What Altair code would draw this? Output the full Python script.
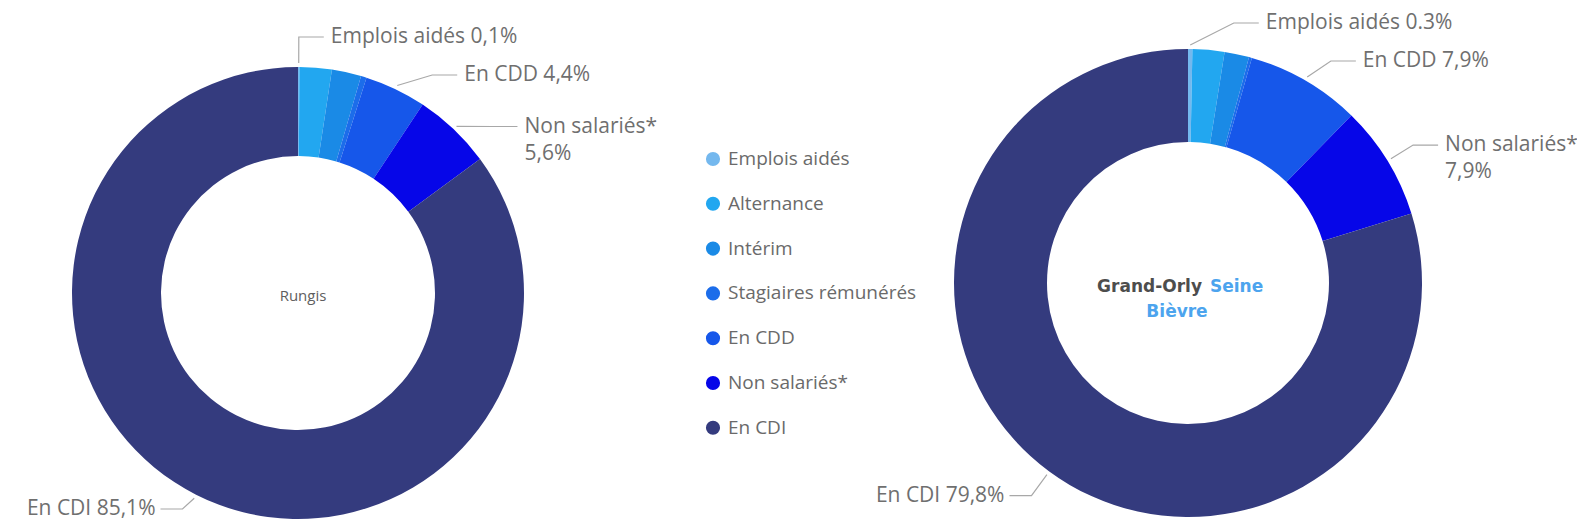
import math
import altair as alt
import pandas as pd

# ---------------- data ----------------
categories = ["Emplois aidés", "Alternance", "Intérim", "Stagiaires rémunérés",
              "En CDD", "Non salariés*", "En CDI"]
colors = ["#74B8EE", "#22A7F0", "#1A8AE6", "#1C6DEA", "#1657EA", "#0606E8", "#343B7E"]

rungis_values = [0.1, 2.3, 2.1, 0.4, 4.4, 5.6, 85.1]
gosb_values = [0.3, 2.2, 1.7, 0.2, 7.9, 7.9, 79.8]

labelled = ["Emplois aidés", "En CDD", "Non salariés*", "En CDI"]
two_line = ["Non salariés*"]
rungis_sep = {"Emplois aidés": ",", "En CDD": ",", "Non salariés*": ",", "En CDI": ","}
gosb_sep = {"Emplois aidés": ".", "En CDD": ",", "Non salariés*": ",", "En CDI": ","}

# ---------------- layout (styles) ----------------
W, H = 1569, 513
LEFT = dict(cx=290, cy=285, r_out=226, r_in=137)
RIGHT = dict(cx=1180, cy=275, r_out=234, r_in=141)
LBL_FONT = "Open Sans"
LBL_SIZE = 21
LBL_COLOR = "#6F6F6F"
LINE_COLOR = "#A8A8A8"
LINE_H = 27
HALF_1 = 19
HLEN = {1: 25, -1: 22}
GAP = {1: 7, -1: 5}
Y_MIN, Y_MAX = 15, H - 12

xs = alt.Scale(domain=[0, W], range=[0, W])
ys = alt.Scale(domain=[0, H], range=[0, H])
cscale = alt.Scale(domain=categories, range=colors)


def donut(values, g):
    df = pd.DataFrame({"cat": categories, "value": values, "idx": list(range(len(categories)))})
    total = float(sum(values))
    return alt.Chart(df).mark_arc(
        innerRadius=g["r_in"], outerRadius=g["r_out"], strokeWidth=0
    ).encode(
        x=alt.value(g["cx"]),
        y=alt.value(g["cy"]),
        theta=alt.Theta("value:Q", stack=True, scale=alt.Scale(domain=[0, total])),
        color=alt.Color("cat:N", scale=cscale, legend=None),
        order=alt.Order("idx:Q"),
    )


def label_tables(values, g, seps, prefix):
    total = float(sum(values))
    items = []
    cum = 0.0
    for cat, v in zip(categories, values):
        mid = (cum + v / 2.0) / total * 2 * math.pi
        cum += v
        if cat not in labelled:
            continue
        s, c = math.sin(mid), math.cos(mid)
        r0 = g["r_out"] + 4
        r1 = g["r_out"] + 30
        d = 1 if s >= 0 else -1
        half = HALF_1 + (LINE_H / 2.0 if cat in two_line else 0)
        items.append(dict(cat=cat, v=v, d=d, half=half,
                          ax=g["cx"] + r0 * s, ay=g["cy"] - r0 * c,
                          ex=g["cx"] + r1 * s, ey=g["cy"] - r1 * c, r1=r1))
    # simple collision avoidance per side (top to bottom)
    for side in (1, -1):
        grp = sorted([it for it in items if it["d"] == side], key=lambda it: it["ey"])
        prev = None
        for it in grp:
            y = min(max(it["ey"], Y_MIN), Y_MAX)
            if prev is not None:
                y = max(y, prev["y"] + prev["half"] + it["half"])
            it["y"] = y
            it["pushed"] = y > it["ey"] + 0.5
            prev = it
    lines, texts = [], []
    for it in items:
        if it["pushed"]:
            dy = it["y"] - g["cy"]
            ex = g["cx"] + it["d"] * math.sqrt(max(it["r1"] ** 2 - dy ** 2, 0.0))
        else:
            ex = it["ex"]
        ey = it["y"]
        hx = ex + HLEN[it["d"]] * it["d"]
        key = prefix + it["cat"]
        for step, (px, py) in enumerate([(it["ax"], it["ay"]), (ex, ey), (hx, ey)]):
            lines.append({"key": key, "step": step, "px": px, "py": py})
        pct = f"{it['v']:.1f}".replace(".", seps[it["cat"]]) + "%"
        txt = f"{it['cat']}\n{pct}" if it["cat"] in two_line else f"{it['cat']} {pct}"
        texts.append({"key": key, "px": hx + GAP[it["d"]] * it["d"], "py": ey, "txt": txt,
                      "side": "right" if it["d"] > 0 else "left"})
    return lines, texts


l1, t1 = label_tables(rungis_values, LEFT, rungis_sep, "R-")
l2, t2 = label_tables(gosb_values, RIGHT, gosb_sep, "G-")
lines_df = pd.DataFrame(l1 + l2)
texts_df = pd.DataFrame(t1 + t2)

X = lambda f: alt.X(f, scale=xs, axis=None)
Y = lambda f: alt.Y(f, scale=ys, axis=None)

leader = alt.Chart(lines_df).mark_line(color=LINE_COLOR, strokeWidth=1.2).encode(
    x=X("px:Q"), y=Y("py:Q"), detail="key:N", order="step:Q",
)

text_right = alt.Chart(texts_df).transform_filter(alt.datum.side == "right").mark_text(
    font=LBL_FONT, fontSize=LBL_SIZE, color=LBL_COLOR, align="left", baseline="middle",
    lineBreak="\n", lineHeight=LINE_H
).encode(x=X("px:Q"), y=Y("py:Q"), text="txt:N")

text_left = alt.Chart(texts_df).transform_filter(alt.datum.side == "left").mark_text(
    font=LBL_FONT, fontSize=LBL_SIZE, color=LBL_COLOR, align="right", baseline="middle",
    lineBreak="\n", lineHeight=LINE_H
).encode(x=X("px:Q"), y=Y("py:Q"), text="txt:N")

# ---------------- centre titles ----------------
center_df = pd.DataFrame([{"px": LEFT["cx"] + 5, "py": LEFT["cy"] + 3, "txt": "Rungis"}])
center_left = alt.Chart(center_df).mark_text(
    font=LBL_FONT, fontSize=15, color="#5E5E5E", align="center", baseline="middle"
).encode(x=X("px:Q"), y=Y("py:Q"), text="txt:N")

gosb_dark = pd.DataFrame([{"px": RIGHT["cx"] + 14, "py": RIGHT["cy"] + 4, "txt": "Grand-Orly"}])
gosb_blue = pd.DataFrame([{"px": RIGHT["cx"] + 22, "py": RIGHT["cy"] + 4, "txt": "Seine"}])
gosb_blue2 = pd.DataFrame([{"px": RIGHT["cx"] - 11, "py": RIGHT["cy"] + 29, "txt": "Bièvre"}])

c_dark = alt.Chart(gosb_dark).mark_text(
    font="DejaVu Sans", fontWeight="bold", fontSize=17, color="#4D4D4D", align="right", baseline="middle"
).encode(x=X("px:Q"), y=Y("py:Q"), text="txt:N")
c_blue = alt.Chart(gosb_blue).mark_text(
    font="DejaVu Sans", fontWeight="bold", fontSize=17, color="#4CA4EE", align="left", baseline="middle"
).encode(x=X("px:Q"), y=Y("py:Q"), text="txt:N")
c_blue2 = alt.Chart(gosb_blue2).mark_text(
    font="DejaVu Sans", fontWeight="bold", fontSize=17, color="#4CA4EE", align="center", baseline="middle"
).encode(x=X("px:Q"), y=Y("py:Q"), text="txt:N")

# ---------------- legend ----------------
leg_df = pd.DataFrame({
    "cat": categories,
    "mx": [705] * len(categories),
    "tx": [720] * len(categories),
    "py": [151 + i * 44.8 for i in range(len(categories))],
})
leg_pts = alt.Chart(leg_df).mark_circle(size=200, opacity=1).encode(
    x=X("mx:Q"), y=Y("py:Q"), color=alt.Color("cat:N", scale=cscale, legend=None),
)
leg_txt = alt.Chart(leg_df).mark_text(
    font=LBL_FONT, fontSize=19, color="#6A6A6A", align="left", baseline="middle"
).encode(x=X("tx:Q"), y=Y("py:Q"), text="cat:N")

chart = alt.layer(
    donut(rungis_values, LEFT),
    donut(gosb_values, RIGHT),
    leader, text_right, text_left,
    center_left, c_dark, c_blue, c_blue2,
    leg_pts, leg_txt,
).resolve_scale(theta="independent").properties(
    width=W, height=H, autosize=alt.AutoSizeParams(type="none"), padding=0, background="white"
).configure_view(stroke=None)

chart.save("out.html", embed_options={"renderer": "svg", "actions": False})
